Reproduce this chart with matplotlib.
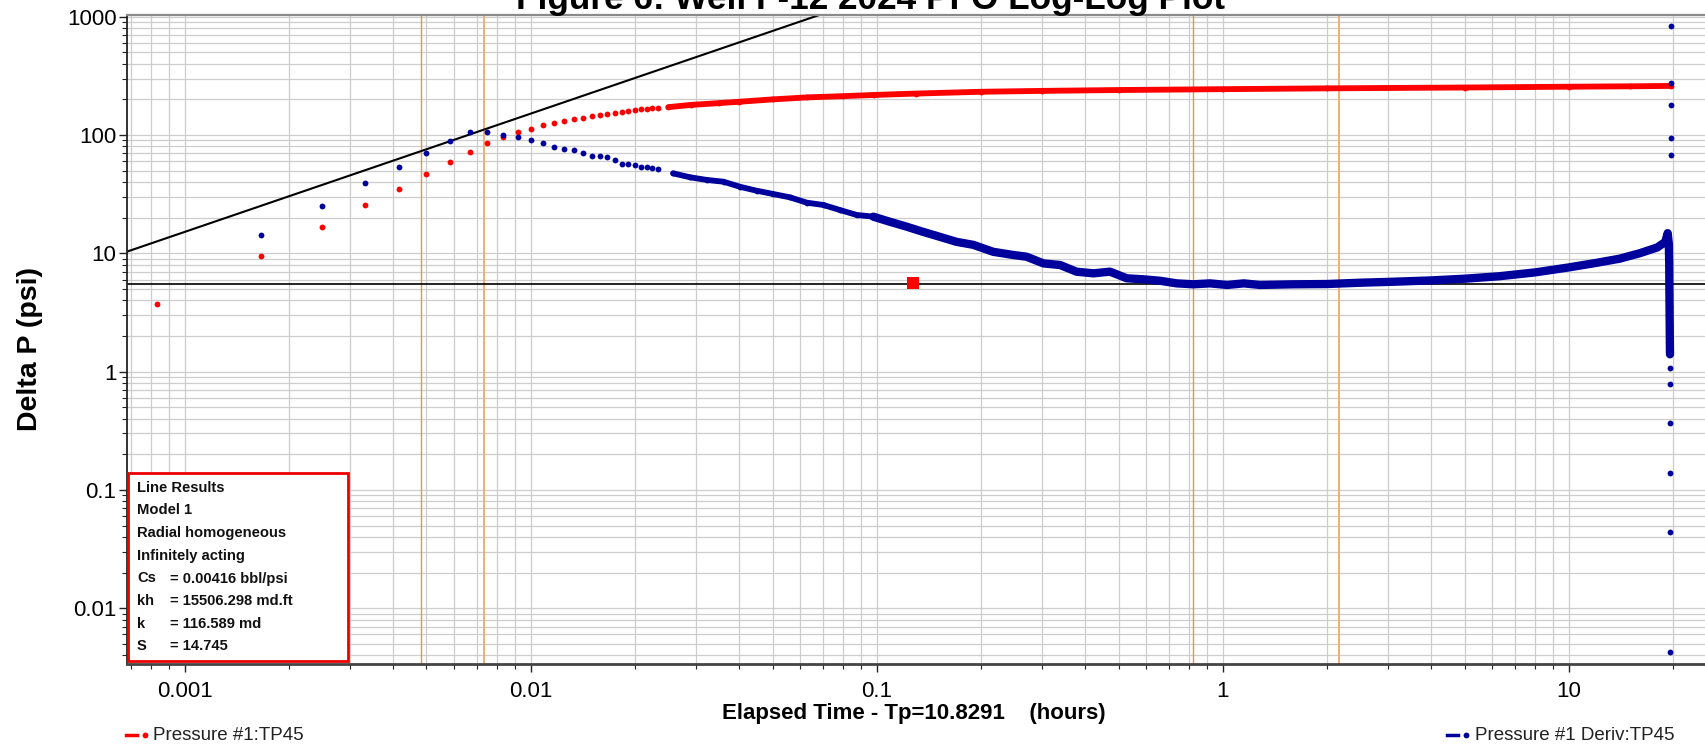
import matplotlib
matplotlib.use("Agg")
import matplotlib.pyplot as plt
from matplotlib.ticker import LogLocator, FuncFormatter, NullFormatter
from matplotlib.lines import Line2D
from matplotlib.patches import Rectangle

# ---------------- data ----------------
# Pressure #1 : early, individually visible points (hours, psi)
red_t = [0.000833, 0.001667, 0.0025, 0.003333, 0.004167, 0.005, 0.005833, 0.006667,
         0.0075, 0.008333, 0.009167, 0.01, 0.010833, 0.011667, 0.0125, 0.013333,
         0.014167, 0.015, 0.015833, 0.016667, 0.0175, 0.018333, 0.019167, 0.02,
         0.020833, 0.021667, 0.0225, 0.023333]
red_p = [3.71, 9.43, 16.8, 25.6, 35.1, 46.5, 59.5, 72.3,
         85.1, 95.6, 106, 112, 122, 126.5, 131.5, 136.5,
         140, 145, 148.6, 151.5, 154.5, 157.5, 160.4, 162.6,
         164.9, 166.8, 168.1, 170.2]
# Pressure #1 : dense part
red_dense_t = [0.025, 0.029, 0.035, 0.040, 0.050, 0.063, 0.080, 0.098, 0.13, 0.20,
               0.30, 0.50, 1.0, 2.0, 5.0, 10.0, 15.0, 19.7]
red_dense_p = [172, 179.6, 186, 191, 200, 208, 213, 218, 224, 232,
               236, 240, 244, 248, 252, 256, 258, 260]

# Pressure #1 Deriv : early, individually visible points
blue_t = [0.001667, 0.0025, 0.003333, 0.004167, 0.005, 0.005833, 0.006667, 0.0075,
          0.008333, 0.009167, 0.01, 0.010833, 0.011667, 0.0125, 0.013333, 0.014167,
          0.015, 0.015833, 0.016667, 0.0175, 0.018333, 0.019167, 0.02, 0.020833,
          0.021667, 0.0225, 0.023333]
blue_p = [14.4, 25.1, 39.1, 53.7, 70.8, 88.4, 106, 106,
          100, 95.6, 90.2, 85.1, 79.6, 76.6, 74.7, 70.8,
          66.8, 66.4, 64.7, 61.5, 56.9, 56.9, 55.5, 54.0,
          53.3, 52.6, 52.0]
# Pressure #1 Deriv : dense band (first part: chain of dots, second part: noisy band)
blue_chain_t = [0.0258, 0.0289, 0.0323, 0.0361, 0.0403, 0.045, 0.0503, 0.0562, 0.0628,
                0.0702, 0.0784, 0.0875, 0.0978]
blue_chain_p = [47.4, 43.9, 41.7, 40.3, 36.5, 33.8, 31.7, 29.7, 26.8,
                25.6, 23.2, 21.1, 20.4]
blue_band_t = [0.0978, 0.109, 0.122, 0.136, 0.152, 0.170,
               0.190, 0.217, 0.248, 0.271, 0.303, 0.339, 0.378, 0.423, 0.472, 0.528,
               0.589, 0.659, 0.736, 0.822, 0.918, 1.03, 1.15, 1.28, 1.60, 2.0, 2.49,
               3.11, 4.0, 5.0, 6.3, 8.0, 10.0, 12.0, 14.0, 16.0, 18.0, 19.0, 19.3,
               19.45, 19.5, 19.52, 19.54, 19.56, 19.58, 19.6]
blue_band_p = [20.4, 18.5, 16.8, 15.2, 13.8, 12.5,
               11.8, 10.3, 9.68, 9.36, 8.22, 7.96, 6.99, 6.77, 7.0, 6.15,
               6.03, 5.86, 5.57, 5.47, 5.57, 5.40, 5.57, 5.40, 5.47, 5.50, 5.64,
               5.75, 5.9, 6.1, 6.4, 6.9, 7.6, 8.3, 9.0, 10.0, 11.2, 12.5, 14.8,
               12.0, 8.0, 5.0, 3.5, 2.5, 1.8, 1.4]
# Pressure #1 Deriv : end-of-test scatter points
blue_end_t = [19.75, 19.75, 19.75, 19.75, 19.75, 19.55, 19.55, 19.55, 19.6, 19.6, 19.65]
blue_end_p = [832, 277, 181, 95, 68, 1.07, 0.79, 0.37, 0.139, 0.044, 0.0043]

# analysis lines / markers
unit_slope_coef = 15150.0          # dP = C * t  (unit slope line)
radial_level = 5.55                # horizontal derivative stabilisation line
radial_marker = (0.127, 5.6)
orange_lines = [0.00483, 0.00733, 0.822, 2.167]

title = "Figure 6: Well F-12 2024 PFO Log-Log Plot"
xlabel = "Elapsed Time - Tp=10.8291    (hours)"
ylabel = "Delta P (psi)"
legend_left = "Pressure #1:TP45"
legend_right = "Pressure #1 Deriv:TP45"
box_lines = ["Line Results", "Model 1", "Radial homogeneous", "Infinitely acting"]
box_params = [("Cs", "= 0.00416 bbl/psi"), ("kh", "= 15506.298 md.ft"),
              ("k", "= 116.589 md"), ("S", "= 14.745")]

RED = "#FF0000"
BLUE = "#00009C"

# ---------------- figure ----------------
plt.rcParams['font.family'] = ['Liberation Sans', 'DejaVu Sans']
W, H = 1705, 751
fig = plt.figure(figsize=(W / 100, H / 100), dpi=100)
fig.patch.set_facecolor("white")


def fx(px):
    return px / W


def fy(py):
    return 1 - py / H


ax = fig.add_axes([fx(127), fy(664), fx(W - 127), (664 - 15) / H])
ax.set_xscale("log")
ax.set_yscale("log")
ax.set_xlim(0.000682, 24.74)
ax.set_ylim(0.003376, 1033.7)

ax.xaxis.set_major_locator(LogLocator(base=10, numticks=20))
ax.xaxis.set_minor_locator(LogLocator(base=10, subs=range(2, 10), numticks=100))
ax.yaxis.set_major_locator(LogLocator(base=10, numticks=20))
ax.yaxis.set_minor_locator(LogLocator(base=10, subs=range(2, 10), numticks=100))
fmt = FuncFormatter(lambda v, p: ("%g" % v))
ax.xaxis.set_major_formatter(fmt)
ax.yaxis.set_major_formatter(fmt)
ax.xaxis.set_minor_formatter(NullFormatter())
ax.yaxis.set_minor_formatter(NullFormatter())

ax.grid(True, which="both", color="#CDCDCD", linewidth=0.9)
ax.set_axisbelow(True)

ax.tick_params(axis="both", which="major", direction="out", length=6, width=1,
               labelsize=16, color="#222222")
ax.tick_params(axis="both", which="minor", direction="out", length=3.5, width=0.8,
               color="#222222")
ax.tick_params(axis="y", which="major", pad=1.5)
ax.tick_params(axis="x", which="major", pad=6.5)

ax.spines["right"].set_visible(False)
ax.spines["left"].set_color("#222222")
ax.spines["left"].set_linewidth(1.3)
ax.spines["bottom"].set_color("#444444")
ax.spines["bottom"].set_linewidth(2.0)
ax.spines["top"].set_color("#8A8A8A")
ax.spines["top"].set_linewidth(1.6)

# orange vertical lines
for i, xv in enumerate(orange_lines):
    ax.axvline(xv, color="#E8963C" if i % 2 == 0 else "#F2AE72",
               linewidth=1.0 if i % 2 == 0 else 1.4, zorder=1.5)

# unit slope line and horizontal line
xl = ax.get_xlim()
ax.plot([xl[0], 1.0], [unit_slope_coef * xl[0], unit_slope_coef * 1.0],
        color="black", linewidth=1.5, zorder=2)
ax.axhline(radial_level, color="black", linewidth=1.2, zorder=2)

# data
ms = 4.2
ax.plot(red_dense_t, red_dense_p, color=RED, linewidth=4.2, solid_capstyle="round",
        solid_joinstyle="round", zorder=3)
ax.plot(red_t + red_dense_t, red_p + red_dense_p, linestyle="none", marker="o",
        markersize=ms, markeredgewidth=0, color=RED, zorder=3)

ax.plot(blue_chain_t, blue_chain_p, color=BLUE, linewidth=4.2, solid_capstyle="round",
        solid_joinstyle="round", zorder=4)
ax.plot(blue_band_t, blue_band_p, color=BLUE, linewidth=6.0, solid_capstyle="round",
        solid_joinstyle="round", zorder=4)
ax.plot(blue_t + blue_chain_t + blue_band_t + blue_end_t,
        blue_p + blue_chain_p + blue_band_p + blue_end_p,
        linestyle="none", marker="o", markersize=ms, markeredgewidth=0, color=BLUE,
        zorder=4)

ax.plot([radial_marker[0]], [radial_marker[1]], marker="s", markersize=8,
        markeredgewidth=0, color=RED, linestyle="none", zorder=5)

# ---------------- texts ----------------
fig.text(fx(871), fy(9), title, ha="center", va="baseline", fontsize=25.3,
         fontweight="bold", color="black")
fig.text(fx(30), fy(349), ylabel, rotation=90, ha="center", va="center",
         fontsize=20.5, fontweight="bold")
fig.text(fx(914), fy(713), xlabel, ha="center", va="center", fontsize=16,
         fontweight="bold")

# bottom legends
fig.add_artist(Line2D([fx(126), fx(137)], [fy(735), fy(735)], color=RED,
                      linewidth=2.5, transform=fig.transFigure))
fig.add_artist(Line2D([fx(145)], [fy(735)], color=RED, marker="o", markersize=4.2,
                      markeredgewidth=0, transform=fig.transFigure))
fig.text(fx(153), fy(735), legend_left, ha="left", va="center", fontsize=13.5,
         color="#222222")
fig.add_artist(Line2D([fx(1447), fx(1458)], [fy(735), fy(735)], color=BLUE,
                      linewidth=2.5, transform=fig.transFigure))
fig.add_artist(Line2D([fx(1466)], [fy(735)], color=BLUE, marker="o", markersize=4.2,
                      markeredgewidth=0, transform=fig.transFigure))
fig.text(fx(1475), fy(735), legend_right, ha="left", va="center", fontsize=13.5,
         color="#222222")

# results box
box = Rectangle((fx(128), fy(661)), fx(348 - 128), (661 - 473) / H,
                transform=fig.transFigure, facecolor="white", edgecolor="#EE0000",
                linewidth=2.0, zorder=10)
fig.add_artist(box)
line_y = [488, 510.5, 533, 556, 578.5, 601, 623.5, 645.5]
for i, txt in enumerate(box_lines):
    fig.text(fx(137), fy(line_y[i]), txt, ha="left", va="center", fontsize=10.6,
             fontweight="bold", color="#111111", zorder=11)
for j, (lab, val) in enumerate(box_params):
    yy = fy(line_y[len(box_lines) + j])
    fig.text(fx(137), yy, lab, ha="left", va="center", fontsize=10.6,
             fontweight="bold", color="#111111", zorder=11)
    fig.text(fx(170), yy, val, ha="left", va="center", fontsize=10.6,
             fontweight="bold", color="#111111", zorder=11)

fig.savefig("out.png", dpi=100, facecolor="white")
